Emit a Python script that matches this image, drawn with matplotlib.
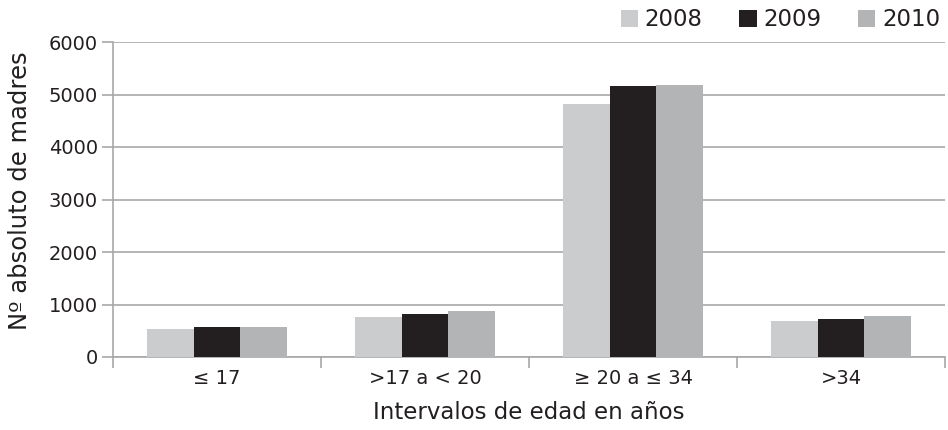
import numpy as np
import matplotlib.pyplot as plt

plt.rcParams['font.family'] = ['DejaVu Sans']

categories = ['≤ 17', '>17 a < 20', '≥ 20 a ≤ 34', '>34']
years = ['2008', '2009', '2010']
v2008 = [542, 758, 4810, 687]
v2009 = [573, 828, 5171, 725]
v2010 = [573, 878, 5177, 777]
colors = ['#cbcccd', '#231f20', '#b3b4b6']

txt = '#231f20'
grid_c = '#a7a8aa'

fig = plt.figure(figsize=(9.48, 4.30), dpi=100)
ax = fig.add_axes([113/948, 1-357/430, (945-113)/948, (357-42)/430])

x = np.arange(len(categories))
w = 0.223
for i, (vals, c, lab) in enumerate(zip([v2008, v2009, v2010], colors, years)):
    ax.bar(x + (i-1)*w, vals, w, color=c, label=lab, zorder=3)

ax.set_xlim(-0.5, len(categories)-0.5)
ax.set_ylim(0, 6000)
ax.set_yticks(range(0, 6001, 1000))
ax.yaxis.grid(True, color=grid_c, linewidth=1.2, zorder=0)
for s in ['top', 'right']:
    ax.spines[s].set_visible(False)
for s in ['left', 'bottom']:
    ax.spines[s].set_color(grid_c)
    ax.spines[s].set_linewidth(1.2)

ax.set_xticks(x)
ax.set_xticklabels(categories)
ax.set_xticks(np.arange(-0.5, len(categories), 1), minor=True)
ax.tick_params(axis='x', which='major', length=0, pad=9, labelsize=14, labelcolor=txt)
ax.tick_params(axis='x', which='minor', length=8, color=grid_c, width=1.2)
ax.tick_params(axis='y', length=8, color=grid_c, width=1.2, labelsize=14, labelcolor=txt, pad=3)

ax.set_ylabel('Nº absoluto de madres', fontsize=17.5, color=txt)
ax.yaxis.set_label_coords(-0.097, 0.527)
ax.set_xlabel('Intervalos de edad en años', fontsize=16.5, color=txt, labelpad=9)

ax.legend(loc='lower right', bbox_to_anchor=(1.0, 1.02), ncol=3, frameon=False,
          fontsize=16.5, handlelength=0.75, handleheight=0.75, handletextpad=0.3,
          columnspacing=1.6, borderaxespad=0.1, borderpad=0.1, labelcolor=txt)

fig.savefig('out.png', dpi=100)
